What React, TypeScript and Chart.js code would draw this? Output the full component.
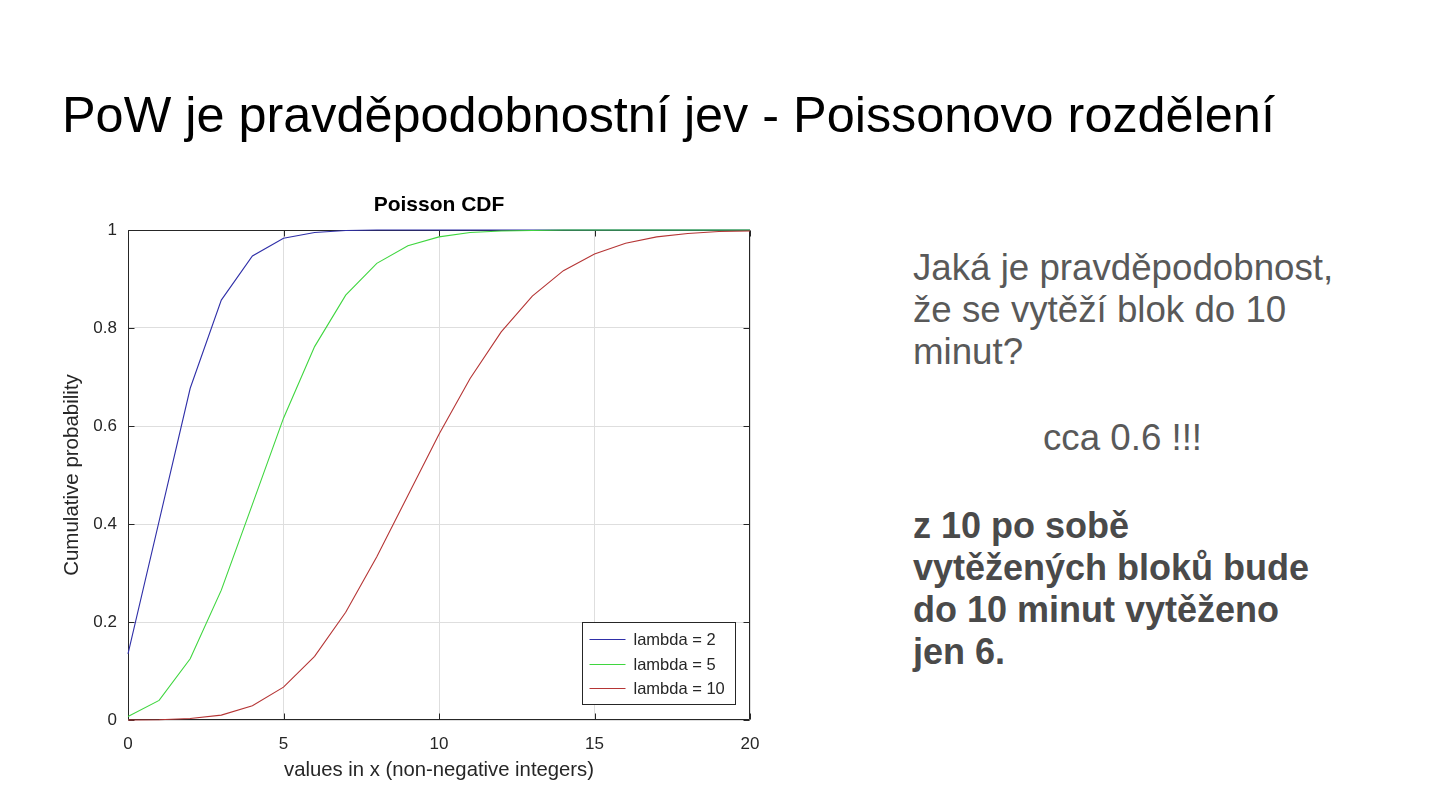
import React, { useEffect, useRef } from "react";
import { Chart, registerables } from "chart.js";

Chart.register(...registerables);

const X_VALUES = [0, 1, 2, 3, 4, 5, 6, 7, 8, 9, 10, 11, 12, 13, 14, 15, 16, 17, 18, 19, 20];
const LAMBDA_2 = [0.135, 0.406, 0.677, 0.857, 0.947, 0.983, 0.995, 0.999, 1, 1, 1, 1, 1, 1, 1, 1, 1, 1, 1, 1, 1];
const LAMBDA_5 = [0.007, 0.04, 0.125, 0.265, 0.44, 0.616, 0.762, 0.867, 0.932, 0.968, 0.986, 0.995, 0.998, 0.999, 1, 1, 1, 1, 1, 1, 1];
const LAMBDA_10 = [0, 0.0005, 0.003, 0.01, 0.029, 0.067, 0.13, 0.22, 0.333, 0.458, 0.583, 0.697, 0.792, 0.865, 0.917, 0.951, 0.973, 0.986, 0.993, 0.997, 0.998];

const SERIES_LABELS = ["lambda = 2", "lambda = 5", "lambda = 10"];
const SERIES_COLORS = ["#2f2fa8", "#3fd63f", "#b53535"];

const X_TICKS = [0, 5, 10, 15, 20];
const X_TICK_LABELS = ["0", "5", "10", "15", "20"];
const Y_TICKS = [0, 0.2, 0.4, 0.6, 0.8, 1];
const Y_TICK_LABELS = ["0", "0.2", "0.4", "0.6", "0.8", "1"];

const CHART_TITLE = "Poisson CDF";
const X_TITLE = "values in x (non-negative integers)";
const Y_TITLE = "Cumulative probability";

const SLIDE_TITLE = "PoW je pravděpodobnostní jev - Poissonovo rozdělení";
const QUESTION_LINES = ["Jaká je pravděpodobnost,", "že se vytěží blok do 10", "minut?"];
const ANSWER = "cca 0.6 !!!";
const CONCLUSION_LINES = ["z 10 po sobě", "vytěžených bloků bude", "do 10 minut vytěženo", "jen 6."];

const FONT = "'Liberation Sans', Arial, Helvetica, sans-serif";
const AXIS_COLOR = "#262626";

const matlabPlugin = {
  id: "matlabDecor",
  beforeDatasetsDraw(chart: any) {
    const { ctx, chartArea: a, scales } = chart;
    ctx.save();
    ctx.strokeStyle = AXIS_COLOR;
    ctx.lineWidth = 1;
    const L = Math.round(a.left) + 0.5;
    const R = Math.round(a.right) - 0.5;
    const T = Math.round(a.top) + 0.5;
    const B = Math.round(a.bottom) - 0.5;
    ctx.beginPath();
    ctx.rect(L, T, R - L, B - T);
    const tl = 6;
    X_TICKS.forEach((v) => {
      const px = Math.round(scales.x.getPixelForValue(v)) + 0.5;
      ctx.moveTo(px, B);
      ctx.lineTo(px, B - tl);
      ctx.moveTo(px, T);
      ctx.lineTo(px, T + tl);
    });
    Y_TICKS.forEach((v) => {
      const py = Math.round(scales.y.getPixelForValue(v)) + 0.5;
      ctx.moveTo(L, py);
      ctx.lineTo(L + tl, py);
      ctx.moveTo(R, py);
      ctx.lineTo(R - tl, py);
    });
    ctx.stroke();
    ctx.restore();
  },
  afterDraw(chart: any) {
    const { ctx, chartArea: a } = chart;
    ctx.save();
    ctx.fillStyle = "#000000";
    ctx.font = `bold 21px ${FONT}`;
    ctx.textAlign = "center";
    ctx.textBaseline = "middle";
    ctx.fillText(CHART_TITLE, (a.left + a.right) / 2, 25);
    const w = 153;
    const h = 82;
    const left = Math.round(a.right - 15 - w) + 0.5;
    const top = Math.round(a.bottom - 16 - h) + 0.5;
    ctx.fillStyle = "#ffffff";
    ctx.fillRect(left, top, w, h);
    ctx.strokeStyle = AXIS_COLOR;
    ctx.lineWidth = 1;
    ctx.strokeRect(left, top, w, h);
    ctx.font = `16.5px ${FONT}`;
    ctx.textAlign = "left";
    ctx.textBaseline = "middle";
    const rows = [16, 41, 65];
    chart.data.datasets.forEach((ds: any, i: number) => {
      const y = Math.round(top + rows[i]) + 0.5;
      ctx.strokeStyle = ds.borderColor;
      ctx.beginPath();
      ctx.moveTo(left + 7, y);
      ctx.lineTo(left + 43, y);
      ctx.stroke();
      ctx.fillStyle = AXIS_COLOR;
      ctx.fillText(ds.label, left + 51, y + 1);
    });
    ctx.restore();
  },
};

function ChartView() {
  const ref = useRef<HTMLCanvasElement | null>(null);
  useEffect(() => {
    if (!ref.current) return;
    const series = [LAMBDA_2, LAMBDA_5, LAMBDA_10];
    const chart = new Chart(ref.current, {
      type: "line",
      data: {
        datasets: series.map((vals, i) => ({
          label: SERIES_LABELS[i],
          data: X_VALUES.map((x, j) => ({ x, y: vals[j] })),
          borderColor: SERIES_COLORS[i],
          backgroundColor: SERIES_COLORS[i],
          borderWidth: 1.1,
          pointRadius: 0,
          tension: 0,
          fill: false,
          order: 3 - i,
          clip: 4,
        })),
      },
      options: {
        responsive: false,
        animation: false,
        devicePixelRatio: 1,
        layout: { padding: { top: 50, right: 50, left: 0, bottom: 0 } },
        plugins: {
          legend: { display: false },
          title: { display: false },
          tooltip: { enabled: false },
        },
        scales: {
          x: {
            type: "linear",
            min: 0,
            max: 20,
            afterBuildTicks: (s: any) => {
              s.ticks = X_TICKS.map((v) => ({ value: v }));
            },
            afterFit: (s: any) => {
              s.height = 80;
            },
            ticks: {
              autoSkip: false,
              maxRotation: 0,
              padding: 14,
              color: AXIS_COLOR,
              font: { family: FONT, size: 17 },
              callback: (v: any) => X_TICK_LABELS[X_TICKS.indexOf(Number(v))],
            },
            grid: { color: "#dedede", lineWidth: 1, drawTicks: false },
            border: { display: false },
            title: {
              display: true,
              text: X_TITLE,
              color: AXIS_COLOR,
              font: { family: FONT, size: 20.3 },
              padding: { top: 17, bottom: 17 },
            },
          },
          y: {
            type: "linear",
            min: 0,
            max: 1,
            afterBuildTicks: (s: any) => {
              s.ticks = Y_TICKS.map((v) => ({ value: v }));
            },
            afterFit: (s: any) => {
              s.width = 88;
            },
            ticks: {
              autoSkip: false,
              padding: 11,
              color: AXIS_COLOR,
              font: { family: FONT, size: 17 },
              callback: (v: any) => Y_TICK_LABELS[Y_TICKS.findIndex((t) => Math.abs(t - Number(v)) < 1e-9)],
            },
            grid: { color: "#dedede", lineWidth: 1, drawTicks: false },
            border: { display: false },
            title: {
              display: true,
              text: Y_TITLE,
              color: AXIS_COLOR,
              font: { family: FONT, size: 20.5 },
              padding: { top: 20, bottom: 20 },
            },
          },
        },
      },
      plugins: [matlabPlugin],
    });
    return () => chart.destroy();
  }, []);
  return (
    <canvas
      ref={ref}
      width={760}
      height={620}
      style={{ position: "absolute", left: 40, top: 180, width: 760, height: 620 }}
    />
  );
}

export default function App() {
  return (
    <div
      style={{
        position: "absolute",
        left: 0,
        top: 0,
        width: 1440,
        height: 810,
        background: "#ffffff",
        overflow: "hidden",
        fontFamily: FONT,
      }}
    >
      <div
        style={{
          position: "absolute",
          left: 62,
          top: 90,
          fontSize: 50.4,
          lineHeight: "50px",
          color: "#000000",
          whiteSpace: "nowrap",
        }}
      >
        {SLIDE_TITLE}
      </div>
      <ChartView />
      <div
        style={{
          position: "absolute",
          left: 913,
          top: 247,
          fontSize: 36.7,
          lineHeight: "42px",
          color: "#595959",
          whiteSpace: "nowrap",
        }}
      >
        {QUESTION_LINES.map((l, i) => (
          <div key={i}>{l}</div>
        ))}
      </div>
      <div
        style={{
          position: "absolute",
          left: 1043,
          top: 417,
          fontSize: 36.7,
          lineHeight: "42px",
          color: "#595959",
          whiteSpace: "nowrap",
        }}
      >
        {ANSWER}
      </div>
      <div
        style={{
          position: "absolute",
          left: 913,
          top: 505,
          fontSize: 36,
          lineHeight: "42px",
          fontWeight: "bold",
          color: "#4a4a4a",
          whiteSpace: "nowrap",
        }}
      >
        {CONCLUSION_LINES.map((l, i) => (
          <div key={i}>{l}</div>
        ))}
      </div>
    </div>
  );
}
